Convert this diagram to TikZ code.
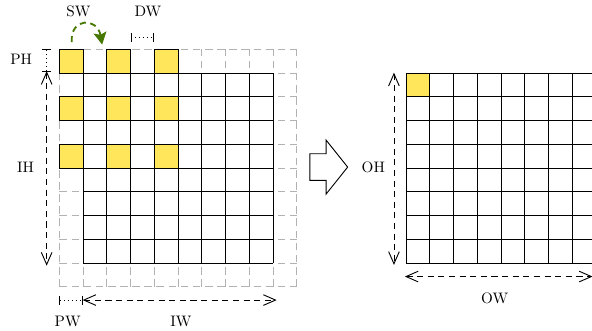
\documentclass[tikz,border=0pt]{standalone}
\usetikzlibrary{arrows.meta}
\definecolor{kernelfill}{RGB}{255,230,90}
\definecolor{stridegreen}{RGB}{70,120,0}
\begin{document}
\begin{tikzpicture}[x=0.55cm,y=0.55cm,
  padgrid/.style={draw=gray!60, line width=0.6pt, dash pattern=on 5pt off 3pt},
  datagrid/.style={draw=black, line width=0.6pt},
  kernelcell/.style={draw=black, line width=0.6pt, fill=kernelfill},
  dimarrow/.style={line width=0.6pt, dash pattern=on 4pt off 3pt,
    {Straight Barb[length=8pt,width=7pt]}-{Straight Barb[length=8pt,width=7pt]}},
  padmark/.style={line width=0.6pt, dotted, {Bar[width=6pt]}-{Bar[width=6pt]}},
  stridearrow/.style={draw=stridegreen, line width=1.2pt, dash pattern=on 4pt off 3pt,
    -{Stealth[length=8pt,width=8.5pt,inset=1.5pt]}},
  lbl/.style={inner sep=0pt},
  blockarrow/.style={draw=black, line width=0.6pt, fill=white, line join=miter}
]
\useasboundingbox (-2.50,2.076) rectangle (22.43,-11.86);

% padded input: dashed outer ring, solid data cells
\draw[padgrid, step=1] (0,0) grid (10,-10);
\draw[datagrid, step=1] (1,-1) grid (9,-9);

% dilated 3x3 kernel positions
\foreach \i in {0,2,4}
  \foreach \j in {0,2,4}
    \draw[kernelcell] (\i,-\j) rectangle ++(1,-1);

% output map
\begin{scope}[shift={(14.6,0)}]
  \draw[datagrid, step=1] (0,-1) grid (8,-9);
  \draw[kernelcell] (0,-1) rectangle (1,-2);
\end{scope}

% stride marker
\coordinate (swfrom) at (0.52,0.30);
\coordinate (swto) at (1.80,0.20);
\draw[stridearrow] (swfrom) .. controls (0.45,1.35) and (1.60,1.35) .. (swto);
\node[lbl] (sw) at (0.80,1.58) {SW};

% dilation marker
\coordinate (dwa) at (3,0.505);
\coordinate (dwb) at (4,0.505);
\draw[padmark] (dwa) -- (dwb);
\node[lbl] (dw) at (3.73,1.58) {DW};

% padding height and input height
\coordinate (pha) at (-0.535,0);
\coordinate (phb) at (-0.535,-0.97);
\draw[padmark] (pha) -- (phb);
\node[lbl] (ph) at (-1.61,-0.43) {PH};
\coordinate (iha) at (-0.535,-0.92);
\coordinate (ihb) at (-0.535,-9.11);
\draw[dimarrow] (iha) -- (ihb);
\node[lbl] (ih) at (-1.42,-4.96) {IH};

% padding width and input width
\coordinate (pwa) at (0,-10.56);
\coordinate (pwb) at (0.98,-10.56);
\draw[padmark] (pwa) -- (pwb);
\node[lbl] (pw) at (0.35,-11.47) {PW};
\coordinate (iwa) at (0.98,-10.56);
\coordinate (iwb) at (9.15,-10.56);
\draw[dimarrow] (iwa) -- (iwb);
\node[lbl] (iw) at (5.12,-11.47) {IW};

% transition arrow
\draw[blockarrow] (10.55,-4.40) -- (11.23,-4.40) -- (11.23,-3.82) -- (12.14,-4.96)
  -- (11.23,-6.10) -- (11.23,-5.52) -- (10.55,-5.52) -- cycle;

% output height and width
\coordinate (oha) at (14.09,-0.985);
\coordinate (ohb) at (14.09,-9.08);
\draw[dimarrow] (oha) -- (ohb);
\node[lbl] (oh) at (13.22,-4.96) {OH};
\coordinate (owa) at (14.55,-9.57);
\coordinate (owb) at (22.45,-9.57);
\draw[dimarrow] (owa) -- (owb);
\node[lbl] (ow) at (18.33,-10.50) {OW};
\end{tikzpicture}
\end{document}
